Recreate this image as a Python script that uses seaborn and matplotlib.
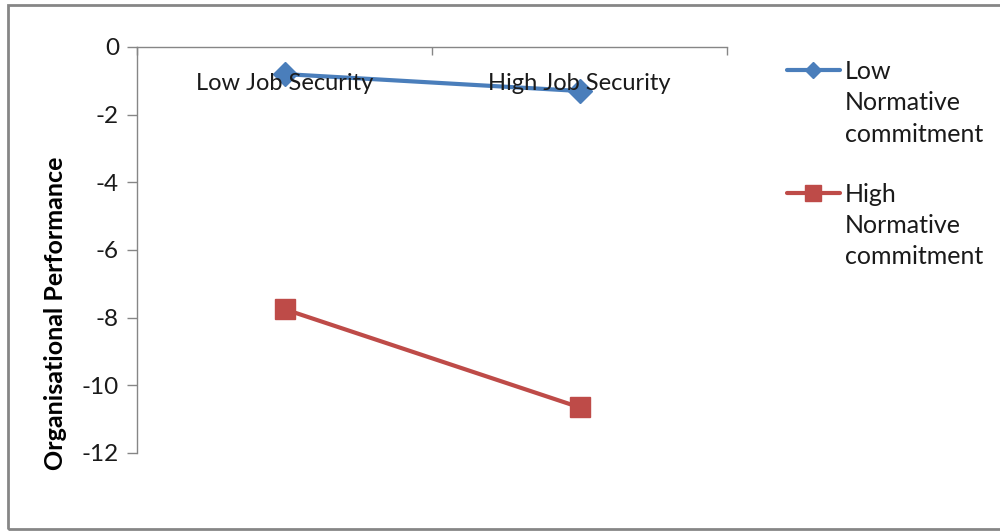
import matplotlib
matplotlib.use("Agg")
import matplotlib.pyplot as plt
import pandas as pd
import seaborn as sns
from matplotlib.lines import Line2D
from matplotlib.patches import Rectangle

# Interaction plot: job security x normative commitment
job_security = ["Low Job Security", "High Job Security"]
low_commitment = [-0.8, -1.3]
high_commitment = [-7.75, -10.65]
series_names = ["Low Normative commitment", "High Normative commitment"]
legend_lines = [["Low", "Normative", "commitment"], ["High", "Normative", "commitment"]]
y_ticks = [0, -2, -4, -6, -8, -10, -12]

BLUE = "#4A7EBB"
RED = "#BE4B48"
GRID = "#868686"

sns.set_theme(style="white")
plt.rcParams["font.family"] = ["Lato", "DejaVu Sans"]

df = pd.DataFrame({
    "pos": list(range(len(job_security))) * 2,
    "performance": low_commitment + high_commitment,
    "series": [series_names[0]] * len(job_security) + [series_names[1]] * len(job_security),
})

fig = plt.figure(figsize=(10, 5.31), dpi=100)
ax = fig.add_axes([0.137, 0.1469, 0.59, 0.7646])

sns.lineplot(
    data=df, x="pos", y="performance", hue="series", style="series",
    palette={series_names[0]: BLUE, series_names[1]: RED},
    markers={series_names[0]: "D", series_names[1]: "s"},
    dashes=False, linewidth=3, legend=False, ax=ax,
)
sizes = {0: 12, 1: 14}
for i, line in enumerate(ax.lines):
    line.set_markersize(sizes[i])
    line.set_markeredgecolor(line.get_color())
    line.set_markeredgewidth(1)

ax.set_xlim(-0.5, len(job_security) - 0.5)
ax.set_ylim(-12, 0)

# category axis sits on y = 0 at the top of the plot area
ax.xaxis.tick_top()
ax.set_xticks([-0.5 + i for i in range(len(job_security) + 1)])
ax.set_xticklabels([])
ax.tick_params(axis="x", direction="in", length=6, width=1, color=GRID)
for i, name in enumerate(job_security):
    ax.text(i, 0.91, name, transform=ax.get_xaxis_transform(),
            ha="center", va="center", fontsize=17, color="#1a1a1a")

ax.set_yticks(y_ticks)
ax.set_yticklabels([str(v) for v in y_ticks])
ax.tick_params(axis="y", direction="out", length=7, width=1, color=GRID,
               labelsize=17.5, labelcolor="#1a1a1a", pad=6, left=True)
ax.set_xlabel("")
ax.set_ylabel("Organisational Performance", fontsize=18, fontweight="bold",
              color="black")
ax.yaxis.set_label_coords(-0.118, 0.345)

for side in ["bottom", "right"]:
    ax.spines[side].set_visible(False)
for side in ["left", "top"]:
    ax.spines[side].set_visible(True)
    ax.spines[side].set_color(GRID)
    ax.spines[side].set_linewidth(1)

# legend with the marker beside the first line of each wrapped name
blank = Line2D([], [], color="none")
handles = [
    Line2D([], [], color=BLUE, lw=3, marker="D", ms=8, mec=BLUE),
    blank, blank, blank,
    Line2D([], [], color=RED, lw=3, marker="s", ms=12, mec=RED),
    blank, blank,
]
labels = legend_lines[0] + [" "] + legend_lines[1]
leg = fig.legend(handles, labels, loc="upper left", bbox_to_anchor=(0.787, 0.887),
                 frameon=False, fontsize=18, handlelength=2.1, handletextpad=0.2,
                 labelspacing=0.33, borderpad=0, borderaxespad=0,
                 labelcolor="#1a1a1a")
# narrower spacer row between the two groups
leg.get_texts()[3].set_fontsize(14)

fig.add_artist(Rectangle((0.008, 0.003), 1.1, 0.9876, transform=fig.transFigure,
                         fill=False, ec=GRID, lw=2, clip_on=False))

fig.savefig("out.png", dpi=100, facecolor="white")
